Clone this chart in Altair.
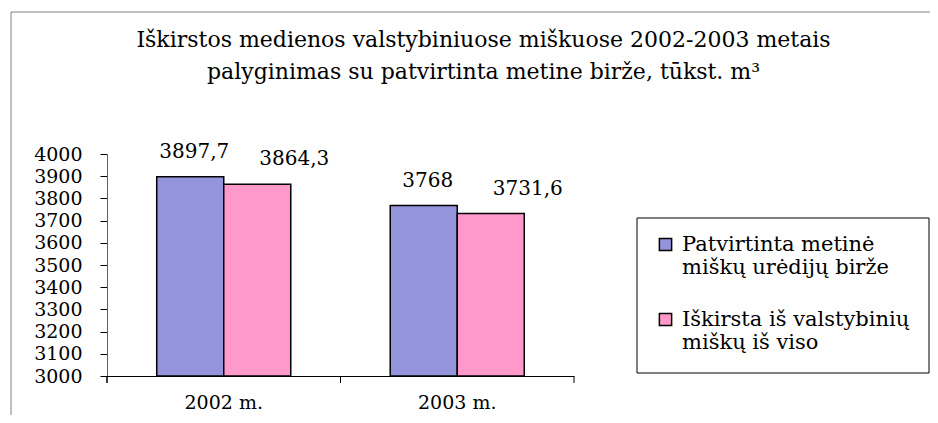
import altair as alt
import pandas as pd

years = ["2002 m.", "2003 m."]
series = ["Patvirtinta metinė|miškų urėdijų birže", "Iškirsta iš valstybinių|miškų iš viso"]
planned = [3897.7, 3768]
cut = [3864.3, 3731.6]
colors = ["#9494DC", "#FF99CC"]
title_lines = [
    "Iškirstos medienos valstybiniuose miškuose 2002-2003 metais",
    "palyginimas su patvirtinta metine birže, tūkst. m³",
]
y_ticks = list(range(3000, 4001, 100))

rows = []
for i, yr in enumerate(years):
    rows.append({"year": yr, "series": series[0], "value": planned[i]})
    rows.append({"year": yr, "series": series[1], "value": cut[i]})
df = pd.DataFrame(rows)

W, H = 467, 222
FONT = "DejaVu Serif"

x_enc = alt.X(
    "year:N", sort=years,
    scale=alt.Scale(paddingInner=0, paddingOuter=0),
    axis=alt.Axis(title=None, ticks=False, labelAngle=0, labelFont=FONT,
                  labelFontSize=19, labelPadding=17, labelColor="black",
                  domainColor="black", domainWidth=1),
)
xoff_enc = alt.XOffset("series:N", sort=series,
                       scale=alt.Scale(paddingInner=0, paddingOuter=0.742))
y_enc = alt.Y(
    "value:Q",
    scale=alt.Scale(domain=[3000, 4000], nice=False, zero=False),
    axis=alt.Axis(title=None, values=y_ticks, format="d", grid=False, tickSize=7,
                  tickColor="black", domainColor="#606060", labelFont=FONT,
                  labelFontSize=19, labelColor="black", labelPadding=18),
)

base = alt.Chart(df)

bars = base.mark_bar(stroke="black", strokeWidth=1.5).encode(
    x=x_enc, xOffset=xoff_enc, y=y_enc, y2=alt.datum(3000),
    color=alt.Color(
        "series:N", sort=series,
        scale=alt.Scale(domain=series, range=colors),
        legend=alt.Legend(
            orient="none", legendX=548, legendY=80, title=None,
            labelExpr="split(datum.label, '|')", labelFont=FONT,
            labelFontSize=21, labelColor="black", labelLimit=400,
            symbolType="square", symbolSize=150, symbolStrokeColor="black",
            symbolStrokeWidth=1.5, symbolOpacity=1, rowPadding=30,
            labelOffset=6,
        ),
    ),
)

labels = []
for s, dx in zip(series, [4, 37]):
    labels.append(
        base.transform_filter(alt.datum.series == s)
        .transform_calculate(label="replace(toString(datum.value), '.', ',')")
        .mark_text(dx=dx, dy=-19, baseline="alphabetic", font=FONT,
                   fontSize=20, color="black")
        .encode(x=x_enc, xOffset=xoff_enc, y=y_enc, text="label:N")
    )

one = alt.Chart(pd.DataFrame({"a": [0]}))
frame_top = one.mark_rule(color="#808080", strokeWidth=1).encode(
    x=alt.value(-96), x2=alt.value(823), y=alt.value(-142))
frame_left = one.mark_rule(color="#808080", strokeWidth=1).encode(
    x=alt.value(-96), y=alt.value(-142), y2=alt.value(261))
legend_box = one.mark_rect(fill="white", stroke="black", strokeWidth=1).encode(
    x=alt.value(530), x2=alt.value(822), y=alt.value(64), y2=alt.value(219))

edge_ticks = base.mark_rule(color="black").encode(
    x=alt.X("year:N", sort=years, bandPosition=0),
    y=alt.value(H), y2=alt.value(H + 7))
end_tick = one.mark_rule(color="black").encode(
    x=alt.value(W), y=alt.value(H), y2=alt.value(H + 7))

chart = alt.layer(
    frame_top, frame_left, legend_box, bars, *labels, edge_ticks, end_tick
).properties(
    width=W, height=H,
    padding={"left": 99, "top": 146, "right": 356, "bottom": 39},
    autosize=alt.AutoSizeParams(type="none"),
    title=alt.TitleParams(
        text=title_lines, font=FONT, fontSize=22, fontWeight="normal",
        color="black", anchor="middle", frame="group", dx=143,
        offset=-72, lineHeight=32,
    ),
).configure(background="white", font=FONT).configure_view(stroke=None)

chart.save("out.html", embed_options={"renderer": "svg", "actions": False})
